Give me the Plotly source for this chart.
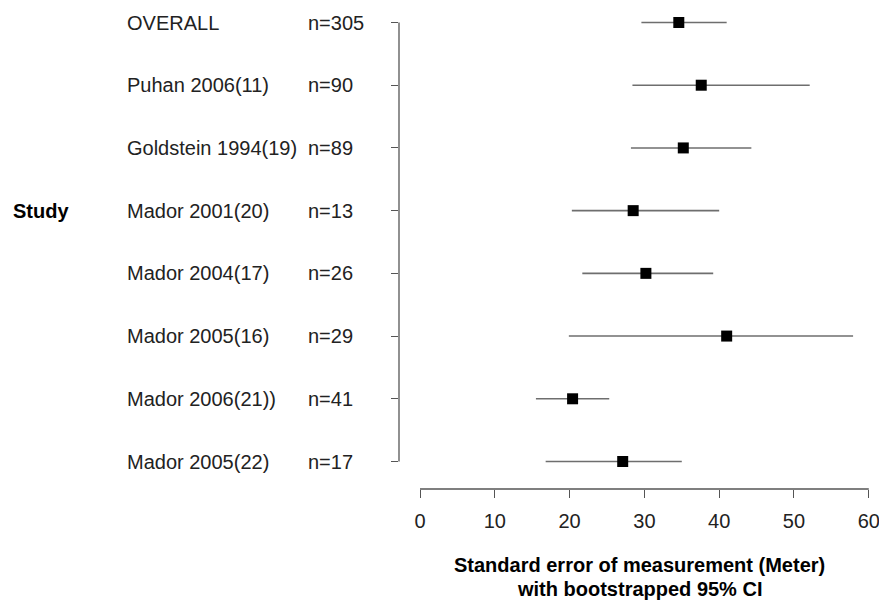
import plotly.graph_objects as go

studies = ["OVERALL", "Puhan 2006(11)", "Goldstein 1994(19)", "Mador 2001(20)",
           "Mador 2004(17)", "Mador 2005(16)", "Mador 2006(21))", "Mador 2005(22)"]
n_labels = ["n=305", "n=90", "n=89", "n=13", "n=26", "n=29", "n=41", "n=17"]
sem = [34.6, 37.6, 35.2, 28.5, 30.2, 41.0, 20.4, 27.1]
ci_low = [29.6, 28.4, 28.2, 20.3, 21.7, 19.9, 15.5, 16.8]
ci_high = [41.0, 52.1, 44.3, 40.0, 39.2, 57.9, 25.3, 35.0]
x_ticks = [0, 10, 20, 30, 40, 50, 60]
x_title_lines = ["Standard error of measurement (Meter)", "with bootstrapped 95% CI"]

FONT = "Liberation Sans, Arial, sans-serif"

err_plus = [h - m for h, m in zip(ci_high, sem)]
err_minus = [m - l for m, l in zip(sem, ci_low)]

fig = go.Figure()
fig.add_trace(go.Scatter(
    x=sem, y=studies, mode="markers",
    marker=dict(symbol="square", size=11, color="black"),
    error_x=dict(type="data", symmetric=False, array=err_plus, arrayminus=err_minus,
                 color="#6e6e6e", thickness=1.6, width=0),
    showlegend=False, hoverinfo="x+y",
))

annotations = []
for s, n in zip(studies, n_labels):
    annotations.append(dict(x=-0.5756, y=s, xref="paper", yref="y", text=s,
                            xanchor="left", yanchor="middle", showarrow=False,
                            font=dict(family=FONT, size=20, color="#222")))
    annotations.append(dict(x=-0.1954, y=s, xref="paper", yref="y", text=n,
                            xanchor="left", yanchor="middle", showarrow=False,
                            font=dict(family=FONT, size=20, color="#222")))
annotations.append(dict(x=-0.815, y="Mador 2001(20)", xref="paper", yref="y",
                        text="<b>Study</b>", xanchor="left", yanchor="middle",
                        showarrow=False, font=dict(family=FONT, size=20, color="black")))
for line, ypos in zip(x_title_lines, [-0.1603, -0.211]):
    annotations.append(dict(x=0.506, y=ypos, xref="paper", yref="paper",
                            text="<b>" + line + "</b>",
                            xanchor="center", yanchor="middle", showarrow=False,
                            font=dict(family=FONT, size=20, color="black")))

fig.update_layout(
    width=879, height=600,
    margin=dict(l=399, r=4, t=15, b=111, autoexpand=False),
    paper_bgcolor="white", plot_bgcolor="white",
    font=dict(family=FONT, size=20, color="#222"),
    xaxis=dict(range=[-2.807, 60.83], tickvals=x_ticks, ticks="outside", ticklen=8,
               tickcolor="#555", tickwidth=1.3, showgrid=False, zeroline=False,
               showline=False, ticklabelstandoff=6, ticklabeloverflow="allow",
               automargin=False,
               tickfont=dict(family=FONT, size=20, color="#222")),
    yaxis=dict(type="category", categoryarray=studies[::-1], range=[-0.4385, 7.1196],
               ticks="outside", ticklen=7, tickcolor="#555", tickwidth=1.3,
               automargin=False,
               showticklabels=False, showgrid=False, zeroline=False, showline=False),
    shapes=[
        dict(type="line", xref="x", yref="paper", x0=0, x1=60, y0=0, y1=0,
             line=dict(color="#555", width=1.3)),
        dict(type="line", xref="paper", yref="y", x0=0, x1=0, y0=0, y1=7,
             line=dict(color="#555", width=1.3)),
    ],
    annotations=annotations,
)

fig.write_html("out.html", config=dict(displayModeBar=False),
               post_script="document.body.style.margin='0';document.body.style.overflow='hidden';")
